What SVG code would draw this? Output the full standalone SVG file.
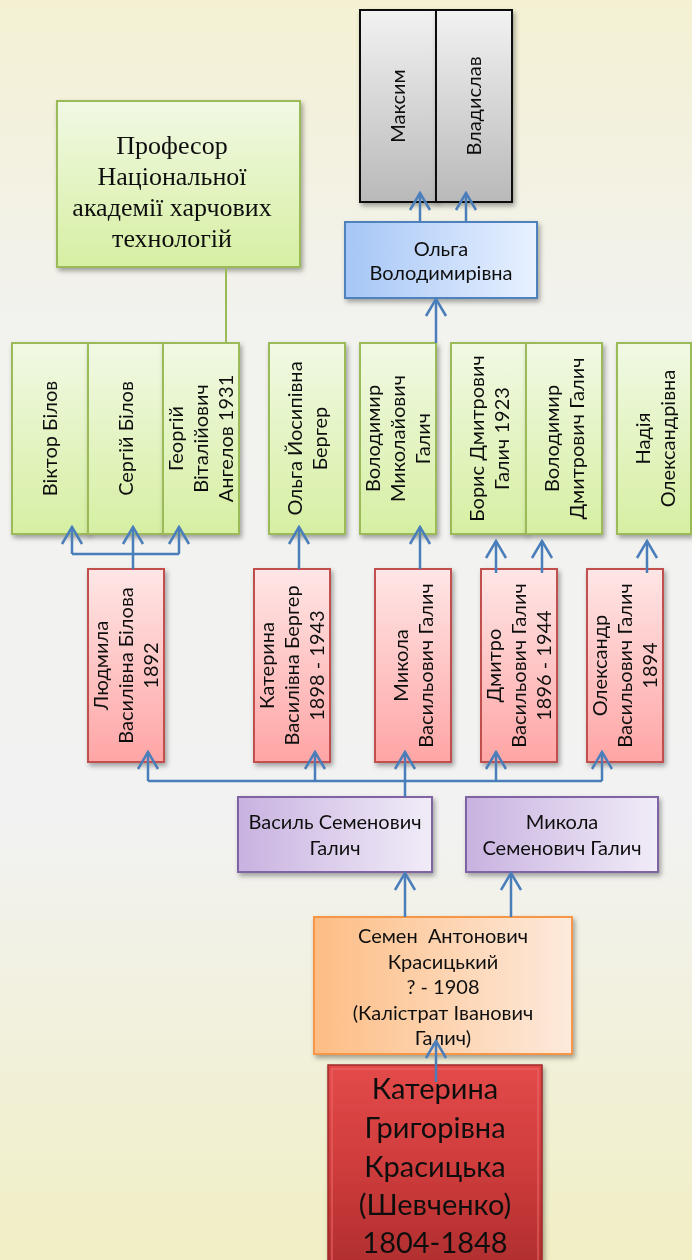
<svg xmlns="http://www.w3.org/2000/svg" width="692" height="1260" viewBox="0 0 692 1260">
<defs>
<linearGradient id="bg" x1="0" y1="0" x2="0" y2="1">
<stop offset="0" stop-color="#f4f1d3"/><stop offset="0.25" stop-color="#f2f2ee"/><stop offset="0.65" stop-color="#f2f2f2"/><stop offset="1" stop-color="#f1efc4"/>
</linearGradient>
<linearGradient id="gGreen" x1="0" y1="0" x2="0" y2="1"><stop offset="0" stop-color="#f1f9e4"/><stop offset="1" stop-color="#d6efa2"/></linearGradient>
<linearGradient id="gGray" x1="0" y1="0" x2="0" y2="1"><stop offset="0" stop-color="#f2f2f2"/><stop offset="1" stop-color="#b9b9b9"/></linearGradient>
<linearGradient id="gPink" x1="0" y1="0" x2="0" y2="1"><stop offset="0" stop-color="#ffe6e6"/><stop offset="1" stop-color="#ffa5a5"/></linearGradient>
<linearGradient id="gBlue" x1="0" y1="0" x2="1" y2="0"><stop offset="0" stop-color="#a6c6f6"/><stop offset="1" stop-color="#e8f1ff"/></linearGradient>
<linearGradient id="gPurple" x1="0" y1="0" x2="1" y2="0"><stop offset="0" stop-color="#c8b2e0"/><stop offset="1" stop-color="#f1ecf8"/></linearGradient>
<linearGradient id="gOrange" x1="0" y1="0" x2="1" y2="0"><stop offset="0" stop-color="#fdbd84"/><stop offset="1" stop-color="#fdeadc"/></linearGradient>
<linearGradient id="gRed" x1="0" y1="0" x2="0" y2="1"><stop offset="0" stop-color="#e44a4a"/><stop offset="0.5" stop-color="#cf3c3c"/><stop offset="1" stop-color="#b02e2e"/></linearGradient>
<filter id="sh" x="-20%" y="-20%" width="140%" height="140%"><feDropShadow dx="2" dy="3" stdDeviation="2.5" flood-color="#000" flood-opacity="0.35"/></filter>
<marker id="ah" viewBox="-20 -12 22 24" refX="0" refY="0" markerWidth="22" markerHeight="24" markerUnits="userSpaceOnUse" orient="auto">
<path d="M-17,-10 L0,0 L-17,10" fill="none" stroke="#4a7ebb" stroke-width="2.5"/>
</marker>
<style>
.t{font-family:Lato,"Liberation Sans",sans-serif;font-size:20px;fill:#111;text-anchor:middle}
.serif{font-family:"Liberation Serif",serif;font-size:26px;fill:#111;text-anchor:middle}
.big{font-family:Lato,"Liberation Sans",sans-serif;font-size:29px;fill:#111;text-anchor:middle}
.green{fill:url(#gGreen);stroke:#9bbb59;stroke-width:2}
.gray{fill:url(#gGray);stroke:#111;stroke-width:2}
.pink{fill:url(#gPink);stroke:#c0504d;stroke-width:2}
.blue{fill:url(#gBlue);stroke:#4f81bd;stroke-width:2}
.purple{fill:url(#gPurple);stroke:#8064a2;stroke-width:2}
.orange{fill:url(#gOrange);stroke:#f79646;stroke-width:2}
.c{fill:none;stroke:#4a7ebb;stroke-width:2.5}
.a{fill:none;stroke:#4a7ebb;stroke-width:2.5;marker-end:url(#ah)}
</style>
</defs>
<rect x="0" y="0" width="692" height="1260" fill="url(#bg)"/>

<g id="nodes">
<g id="maksym" filter="url(#sh)"><rect class="gray" x="360" y="10" width="76" height="192"/>
<text class="t" transform="rotate(-90 398 106)" x="398" y="113">Максим</text></g>
<g id="vladyslav" filter="url(#sh)"><rect class="gray" x="436" y="10" width="76" height="192"/>
<text class="t" transform="rotate(-90 474 106)" x="474" y="113">Владислав</text></g>

<g id="olga-v" filter="url(#sh)"><rect class="blue" x="345" y="222" width="192" height="76"/>
<text class="t"><tspan x="441" y="256">Ольга</tspan><tspan x="441" y="280">Володимирівна</tspan></text></g>

<g id="profesor" filter="url(#sh)"><rect class="green" x="57" y="101" width="243" height="166"/>
<text class="serif"><tspan x="172" y="154">Професор</tspan><tspan x="172" y="185">Національної</tspan><tspan x="172" y="216">академії харчових</tspan><tspan x="172" y="247">технологій</tspan></text></g>

<g id="viktor" filter="url(#sh)"><rect class="green" x="12" y="343" width="76" height="191"/>
<text class="t" transform="rotate(-90 50 438.5)" x="50" y="445.5">Віктор Білов</text></g>
<g id="serhii" filter="url(#sh)"><rect class="green" x="88" y="343" width="75" height="191"/>
<text class="t" transform="rotate(-90 126 438.5)" x="126" y="445.5">Сергій Білов</text></g>
<g id="heorhii" filter="url(#sh)"><rect class="green" x="163" y="343" width="76" height="191"/>
<text class="t" transform="rotate(-90 201 438.5)"><tspan x="201" y="420.5">Георгій</tspan><tspan x="201" y="445.5">Віталійович</tspan><tspan x="201" y="470.5">Ангелов 1931</tspan></text></g>
<g id="olga-y" filter="url(#sh)"><rect class="green" x="269" y="343" width="76" height="191"/>
<text class="t" transform="rotate(-90 307 438.5)"><tspan x="307" y="433">Ольга Йосипівна</tspan><tspan x="307" y="458">Бергер</tspan></text></g>
<g id="volodymyr-m" filter="url(#sh)"><rect class="green" x="360" y="343" width="76" height="191"/>
<text class="t" transform="rotate(-90 398 438.5)"><tspan x="398" y="420.5">Володимир</tspan><tspan x="398" y="445.5">Миколайович</tspan><tspan x="398" y="470.5">Галич</tspan></text></g>
<g id="borys" filter="url(#sh)"><rect class="green" x="451" y="343" width="75" height="191"/>
<text class="t" transform="rotate(-90 489 438.5)"><tspan x="489" y="433">Борис Дмитрович</tspan><tspan x="489" y="458">Галич 1923</tspan></text></g>
<g id="volodymyr-d" filter="url(#sh)"><rect class="green" x="526" y="343" width="76" height="191"/>
<text class="t" transform="rotate(-90 564 438.5)"><tspan x="564" y="433">Володимир</tspan><tspan x="564" y="458">Дмитрович Галич</tspan></text></g>
<g id="nadiia" filter="url(#sh)"><rect class="green" x="617" y="343" width="74" height="191"/>
<text class="t" transform="rotate(-90 655 438.5)"><tspan x="655" y="433">Надія</tspan><tspan x="655" y="458">Олександрівна</tspan></text></g>

<g id="liudmyla" filter="url(#sh)"><rect class="pink" x="88" y="569" width="76" height="193"/>
<text class="t" transform="rotate(-90 126 665.5)"><tspan x="126" y="647.5">Людмила</tspan><tspan x="126" y="672.5">Василівна Білова</tspan><tspan x="126" y="697.5">1892</tspan></text></g>
<g id="kateryna-b" filter="url(#sh)"><rect class="pink" x="254" y="569" width="76" height="193"/>
<text class="t" transform="rotate(-90 292 665.5)"><tspan x="292" y="647.5">Катерина</tspan><tspan x="292" y="672.5">Василівна Бергер</tspan><tspan x="292" y="697.5">1898 - 1943</tspan></text></g>
<g id="mykola-v" filter="url(#sh)"><rect class="pink" x="375" y="569" width="76" height="193"/>
<text class="t" transform="rotate(-90 413 665.5)"><tspan x="413" y="660">Микола</tspan><tspan x="413" y="685">Васильович Галич</tspan></text></g>
<g id="dmytro" filter="url(#sh)"><rect class="pink" x="481" y="569" width="76" height="193"/>
<text class="t" transform="rotate(-90 519 665.5)"><tspan x="519" y="647.5">Дмитро</tspan><tspan x="519" y="672.5">Васильович Галич</tspan><tspan x="519" y="697.5">1896 - 1944</tspan></text></g>
<g id="oleksandr" filter="url(#sh)"><rect class="pink" x="587" y="569" width="76" height="193"/>
<text class="t" transform="rotate(-90 625 665.5)"><tspan x="625" y="647.5">Олександр</tspan><tspan x="625" y="672.5">Васильович Галич</tspan><tspan x="625" y="697.5">1894</tspan></text></g>

<g id="vasyl" filter="url(#sh)"><rect class="purple" x="238" y="797" width="194" height="75"/>
<text class="t"><tspan x="335" y="829">Василь Семенович</tspan><tspan x="335" y="855">Галич</tspan></text></g>
<g id="mykola-s" filter="url(#sh)"><rect class="purple" x="466" y="797" width="192" height="75"/>
<text class="t"><tspan x="562" y="829">Микола</tspan><tspan x="562" y="855">Семенович Галич</tspan></text></g>

<g id="semen" filter="url(#sh)"><rect class="orange" x="314" y="917" width="258" height="137"/>
<text class="t" xml:space="preserve"><tspan x="443" y="943">Семен  Антонович</tspan><tspan x="443" y="969">Красицький</tspan><tspan x="443" y="994">? - 1908</tspan><tspan x="443" y="1020">(Калістрат Іванович</tspan><tspan x="443" y="1045">Галич)</tspan></text></g>

<g id="kateryna-h" filter="url(#sh)"><rect x="328" y="1065" width="214" height="201" fill="url(#gRed)" stroke="#9e2a2a" stroke-width="1.5"/>
<rect x="332" y="1069" width="206" height="197" fill="none" stroke="#ec6a6a" stroke-width="1.5" opacity="0.7"/>
<text class="big"><tspan x="435" y="1099">Катерина</tspan><tspan x="435" y="1138">Григорівна</tspan><tspan x="435" y="1177">Красицька</tspan><tspan x="435" y="1215">(Шевченко)</tspan><tspan x="435" y="1253">1804-1848</tspan></text></g>
</g>

<g id="connectors">
<path d="M226,267 L226,343" fill="none" stroke="#9bbb59" stroke-width="2"/>
<path class="a" d="M420,222 L420,193"/>
<path class="a" d="M466,222 L466,193"/>
<path class="a" d="M436,343 L436,299"/>
<path class="c" d="M72,554 L179,554"/>
<path class="a" d="M133,569 L133,527"/>
<path class="a" d="M72,554 L72,527"/>
<path class="a" d="M179,554 L179,527"/>
<path class="a" d="M299,569 L299,527"/>
<path class="a" d="M420,569 L420,527"/>
<path class="a" d="M496,573 L496,541"/>
<path class="a" d="M542,573 L542,541"/>
<path class="a" d="M647,573 L647,541"/>
<path class="c" d="M148,781 L602,781"/>
<path class="a" d="M405,797 L405,752"/>
<path class="a" d="M148,781 L148,752"/>
<path class="a" d="M315,781 L315,752"/>
<path class="a" d="M496,781 L496,752"/>
<path class="a" d="M602,781 L602,752"/>
<path class="a" d="M405,917 L405,873"/>
<path class="a" d="M511,917 L511,873"/>
<path class="a" d="M436,1082 L436,1041"/>
</g>
</svg>
